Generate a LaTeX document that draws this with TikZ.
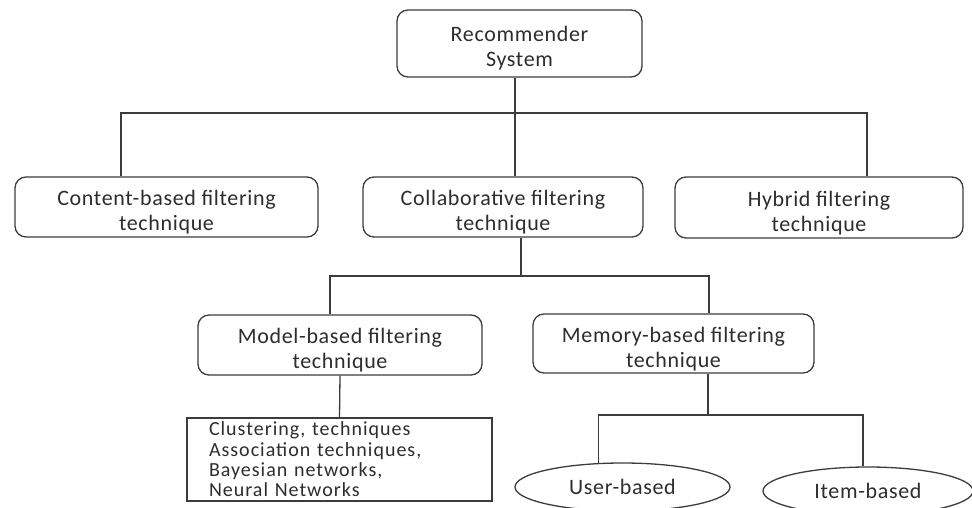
\documentclass[tikz,border=0pt]{standalone}
\usepackage{fontspec}
\setmainfont{Carlito}
\newfontfamily\boxfont[LetterSpace=3]{Carlito}
\newfontfamily\listfont[LetterSpace=5]{Carlito}
\definecolor{inkcolor}{RGB}{45,45,45}
\definecolor{linecolor}{RGB}{60,60,60}
\usepackage{tikz}
\usetikzlibrary{positioning, shapes.geometric, calc}

\begin{document}
\begin{tikzpicture}[
    x=1pt, y=-1pt,
    tech/.style={draw=linecolor, line width=1.3pt, rounded corners=11pt, align=center, text=inkcolor, font=\boxfont\fontsize{22}{25}\selectfont, inner sep=0pt, text height=47pt, text depth=0pt},
    listbox/.style={draw=linecolor, line width=1.3pt, align=left, text=inkcolor, font=\listfont\fontsize{20}{20.3}\selectfont, inner sep=0pt, text width=261pt},
    leaf/.style={draw=linecolor, line width=1.3pt, ellipse, text=inkcolor, font=\boxfont\fontsize{22}{25}\selectfont, inner sep=0pt},
    link/.style={draw=linecolor, line width=1.3pt}
]
    \useasboundingbox (0,0) rectangle (972,508);

    \node[tech, minimum width=245pt, minimum height=67pt] (sys) at (519.5,43.5) {Recommender\\System};

    \node[tech, minimum width=303pt, minimum height=60pt] (cbf) at (166.5,207) {Content-based filtering\\technique};
    \node[tech, minimum width=280pt, minimum height=60pt] (cf) at (503,207) {Collaborative filtering\\technique};
    \node[tech, minimum width=288pt, minimum height=61pt] (hf) at (819,207.5) {Hybrid filtering\\technique};

    \node[tech, minimum width=284pt, minimum height=60pt] (mbf) at (340,345) {Model-based filtering\\technique};
    \node[tech, minimum width=281pt, minimum height=59pt] (mem) at (673.5,343.5) {Memory-based filtering\\technique};

    \node[listbox, minimum width=305pt, minimum height=83pt] (algo) at (339.5,459.5) {Clustering, techniques\\Association techniques,\\Bayesian networks,\\Neural Networks};

    \node[leaf, minimum width=215pt, minimum height=48pt] (user) at (622.5,487) {User-based};
    \node[leaf, minimum width=210pt, minimum height=48pt] (item) at (868,491) {Item-based};

    % first level
    \coordinate (busL) at (121,113);
    \coordinate (busM) at (515,113);
    \coordinate (busR) at (867,113);
    \draw[link] (cbf.north -| busL) -- (busL) -- (busR) -- (hf.north -| busR);
    \draw[link] (sys.south -| busM) -- (cf.north -| busM);

    % second level
    \coordinate (subL) at (330,276);
    \coordinate (subM) at (521,276);
    \coordinate (subR) at (709,276);
    \draw[link] (cf.south -| subM) -- (subM);
    \draw[link] (mbf.north -| subL) -- (subL) -- (subR) -- (mem.north -| subR);

    % third level
    \draw[link] (mbf.south) -- (algo.north);
    \coordinate (memL) at (598,415);
    \coordinate (memM) at (708,415);
    \coordinate (memR) at (863,415);
    \draw[link] (mem.south -| memM) -- (memM);
    \draw[link] (user.135) |- (memL) -- (memR) -- (item.north -| memR);
\end{tikzpicture}
\end{document}
